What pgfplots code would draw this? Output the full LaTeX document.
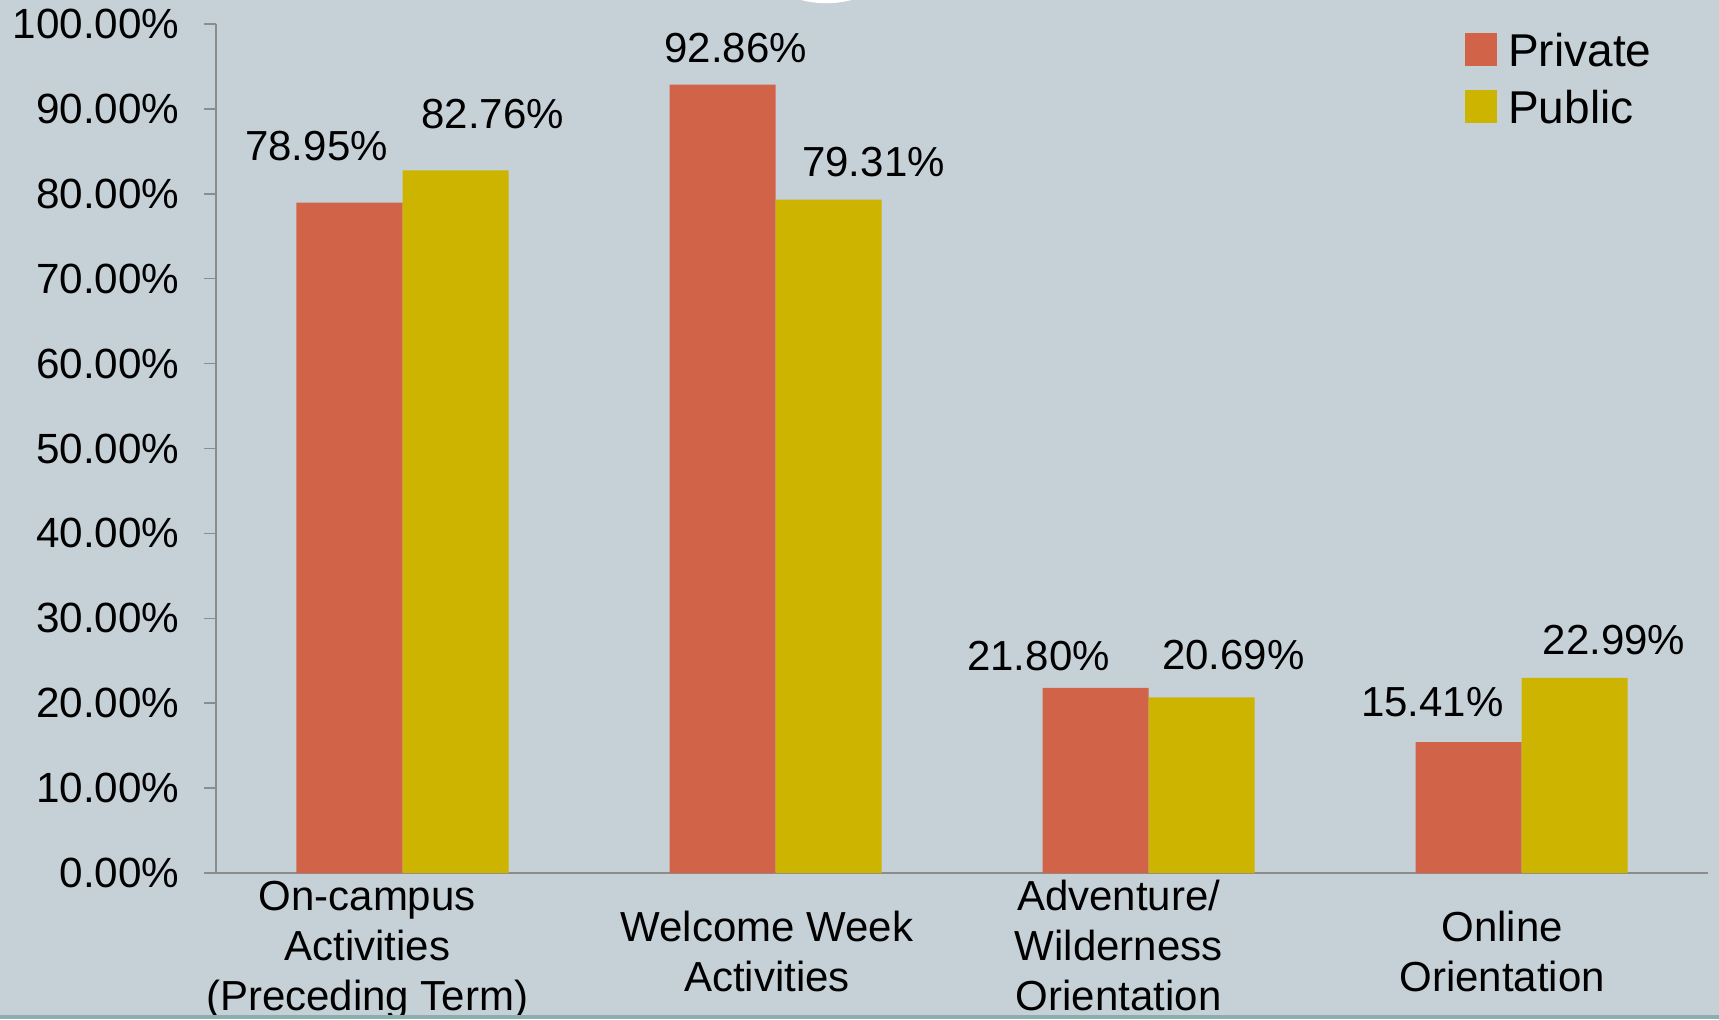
\documentclass[border=0pt]{standalone}
\usepackage{pgfplots}
\pgfplotsset{compat=1.18}
\usepackage{pgfplotstable}
\usepackage{fontspec}
\setmainfont{Liberation Sans}
\definecolor{bg}{RGB}{198,209,215}
\definecolor{priv}{RGB}{209,99,73}
\definecolor{publ}{RGB}{204,180,0}
\definecolor{axgray}{RGB}{140,140,140}
\definecolor{stripcol}{RGB}{139,175,174}
\newcommand{\highstrut}{\rule{0pt}{19.2pt}}
\pgfplotstableread{
x y xo yo
0 78.95 -13.2 22.8
1 92.86 5.3 14.5
2 21.80 -22.8 12.7
3 15.41 -14.5 16.2
}\privdata
\pgfplotstableread{
x y xo yo
0 82.76 14.9 22.4
1 79.31 18.0 14.9
2 20.69 12.7 17.1
3 22.99 15.8 15.3
}\publdata
\begin{document}
\begin{tikzpicture}[x=1pt,y=1pt]
\fill[bg] (0,0) rectangle (687.6,407.6);
\clip (0,0) rectangle (687.6,407.6);
\fill[white] (330.5,446.3) circle (40);
\begin{axis}[
  at={(86.4pt,58.4pt)}, anchor=south west,
  scale only axis, width=596.8pt, height=339.6pt,
  xmin=-0.5, xmax=3.5, ymin=0, ymax=100,
  axis lines*=left,
  axis line style={draw=axgray, line width=0.6pt},
  tick align=outside,
  major tick length=4.6pt,
  ybar=0pt, bar width=42.4pt,
  ytick={0,10,...,100},
  yticklabel={\pgfmathprintnumber[fixed,fixed zerofill,precision=2]{\tick}\%},
  /pgf/number format/assume math mode=true,
  ytick style={draw=axgray, line width=0.6pt},
  yticklabel style={font=\fontsize{16.9}{20}\selectfont, anchor=east, inner sep=0pt, xshift=-9.8pt},
  xtick={-0.0947,0.977,1.920,2.948},
  xticklabels={\strut On-campus\\Activities\\(Preceding Term)\strut, \highstrut Welcome Week\\Activities\strut, \strut Adventure/\\Wilderness\\Orientation\strut, \highstrut Online\\Orientation\strut},
  xtick style={draw=none},
  xticklabel style={font=\fontsize{16.8}{20}\selectfont, align=center, anchor=center, inner sep=0pt, yshift=-26.3pt},
  extra x ticks={-0.5,0.5,1.5,2.5,3.5},
  extra x tick labels={},
  extra x tick style={tick style={draw=axgray, line width=0.6pt}},
  nodes near coords={\pgfmathprintnumber[fixed,fixed zerofill,precision=2]{\pgfplotspointmeta}\%},
  point meta=y,
  visualization depends on={\thisrow{xo} \as \xo},
  visualization depends on={\thisrow{yo} \as \yo},
  every node near coord/.append style={font=\fontsize{16.8}{20}\selectfont, anchor=center, inner sep=0pt, xshift=\xo pt, yshift=\yo pt, text=black},
  legend image code/.code={\path[#1,draw=none] (0pt,-6.6pt) rectangle (12.8pt,6.6pt);},
  legend style={at={(0.8373,0.9894)}, anchor=north west, draw=none, fill=none, inner sep=0pt, outer sep=0pt,
    font=\fontsize{18.4}{22}\selectfont, row sep=9.6pt,
    nodes={inner sep=0pt, text height=13.2pt, text depth=0pt},
    /tikz/every odd column/.style={column sep=4.4pt}},
  legend cell align=left,
]
\addplot[fill=priv, draw=none] table[x=x,y=y] {\privdata};
\addplot[fill=publ, draw=none] table[x=x,y=y] {\publdata};
\legend{Private, Public}
\end{axis}
\fill[stripcol] (0,0) rectangle (687.6,1.8);
\end{tikzpicture}
\end{document}
